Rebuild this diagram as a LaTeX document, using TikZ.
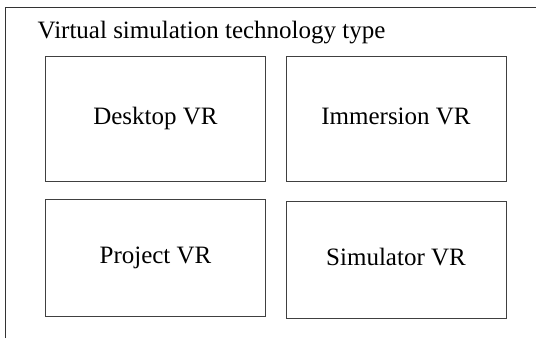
\documentclass[tikz,border=0pt]{standalone}
\usepackage{fontspec}
\setmainfont{Liberation Serif}
\begin{document}
\begin{tikzpicture}[x=1pt,y=-1pt,
  frameline/.style={draw=black!80,line width=0.8pt},
  vrbox/.style={draw=black!75,line width=0.8pt,rectangle,inner sep=0pt,
    minimum width=220pt,font=\fontsize{25}{30}\selectfont,
    text height=17pt,text depth=5pt},
  titletext/.style={font=\fontsize{25}{30}\selectfont,inner sep=0pt,anchor=base west}]
  \useasboundingbox (0,0) rectangle (536,338);
  % outer frame, open on the right and at the bottom
  \coordinate (fbl) at (5.5,338);
  \coordinate (ftl) at (5.5,7.5);
  \coordinate (ftr) at (536,7.5);
  \draw[frameline] (fbl) -- (ftl) -- (ftr);
  \node[titletext] (title) at (37.5,38.5) {Virtual simulation technology type};
  % the four technology types
  \node[vrbox,minimum height=125pt] (desktop) at (155.5,118.5) {Desktop VR};
  \node[vrbox,minimum height=125pt] (immersion) at (396,118.5) {Immersion VR};
  \node[vrbox,minimum height=117pt] (project) at (155.5,257.5) {Project VR};
  \node[vrbox,minimum height=117pt] (simulator) at (396,259.5) {Simulator VR};
\end{tikzpicture}
\end{document}
